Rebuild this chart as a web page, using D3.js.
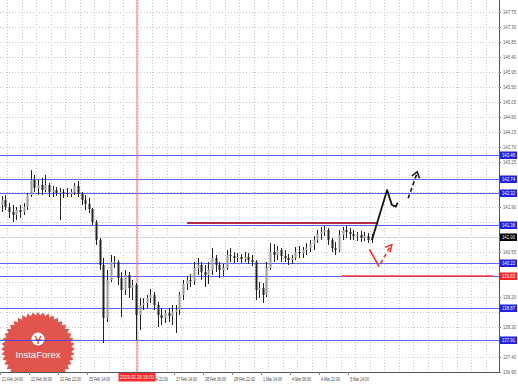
<!DOCTYPE html>
<html><head><meta charset="utf-8">
<script src="https://cdn.jsdelivr.net/npm/d3@7"></script>
<style>html,body{margin:0;padding:0;background:#fff;overflow:hidden}</style>
</head><body><svg id="c" width="518" height="385"></svg>
<script>
// ---------- data ----------
const timeLabels = ["21 Feb 14:00","22 Feb 06:00","22 Feb 22:00","25 Feb 14:00","26 Feb 06:00","26 Feb 22:00","27 Feb 14:00","28 Feb 06:00","28 Feb 22:00","1 Mar 14:00","4 Mar 06:00","4 Mar 22:00","5 Mar 14:00"];
const priceTicks = [136.95,137.40,137.85,138.30,138.75,139.20,139.65,140.10,140.55,141.00,141.45,141.90,142.35,142.80,143.25,143.70,144.15,144.60,145.05,145.50,145.95,146.40,146.85,147.30,147.75];
const firstOpen = 141.96;
const highs = [142.23,142.26,142.02,141.96,141.90,141.96,142.02,142.32,143.01,142.86,142.71,142.77,142.86,142.62,142.53,142.50,142.47,142.44,142.47,142.44,142.62,142.68,142.35,142.26,142.17,141.87,141.51,140.97,140.37,140.01,140.46,140.43,140.31,139.95,140.01,139.95,139.71,139.62,139.17,139.17,139.26,139.44,139.35,139.05,138.87,138.81,138.87,138.96,138.96,139.35,139.71,139.83,139.89,140.25,140.37,140.25,140.16,140.25,140.67,140.46,140.25,140.19,140.61,140.67,140.55,140.52,140.49,140.55,140.52,140.46,140.31,139.65,139.62,140.25,140.82,140.79,140.73,140.67,140.61,140.49,140.46,140.70,140.73,140.70,140.82,140.91,141.03,141.21,141.30,141.33,141.27,140.97,140.85,141.21,141.30,141.33,141.27,141.21,141.15,141.18,141.15,141.12,141.09];
const lows = [141.75,141.81,141.57,141.45,141.51,141.57,141.66,141.81,142.20,142.35,142.26,142.26,142.35,142.20,142.20,142.23,141.51,142.17,142.20,142.20,142.26,142.20,141.96,141.81,141.72,141.36,140.76,140.01,137.82,138.45,139.65,140.07,139.56,138.60,139.26,139.17,139.11,137.91,138.21,138.81,138.87,139.02,138.81,138.30,138.36,138.42,138.45,138.36,138.12,138.66,139.11,139.41,139.50,139.56,139.86,139.71,139.50,139.59,139.86,139.95,139.77,139.83,140.01,140.25,140.22,140.25,140.22,140.25,140.19,140.13,139.11,139.17,139.02,139.20,140.01,140.25,140.31,140.25,140.25,140.16,140.19,140.31,140.37,140.37,140.46,140.55,140.61,140.82,140.91,141.03,140.76,140.55,140.46,140.55,140.91,140.97,140.91,140.91,140.88,140.85,140.88,140.82,140.82];
const closes = [142.11,141.90,141.75,141.66,141.81,141.75,141.90,142.26,142.71,142.47,142.56,142.41,142.56,142.35,142.41,142.32,142.35,142.32,142.29,142.35,142.53,142.29,142.11,141.99,141.84,141.45,140.91,140.16,138.57,139.71,140.25,140.25,139.77,139.41,139.86,139.47,139.56,138.66,138.96,139.02,139.17,139.26,138.96,138.66,138.57,138.72,138.63,138.75,138.81,139.26,139.59,139.71,139.68,140.07,140.16,139.95,139.86,140.01,140.37,140.16,140.01,140.07,140.46,140.43,140.37,140.40,140.34,140.40,140.31,140.25,139.41,139.47,139.26,140.07,140.55,140.46,140.61,140.43,140.37,140.31,140.37,140.55,140.52,140.61,140.67,140.79,140.91,141.09,141.15,141.21,140.91,140.67,140.61,141.06,141.21,141.15,141.09,141.03,141.06,140.97,141.03,140.91,141.00];
const blueLevels = [143.46,142.74,142.32,141.36,140.22,139.83,138.87,137.91];
const resistanceLevel = 141.42;   // dark red segment
const resistanceSpan = [51.1,103.8];
const supportLevel = 139.83;      // red segment
const supportSpan = [93.8,135.5];
const bidPrice = 141.00;
const crossIndex = 37.3;
const crossLabel = "2019.02.26 16:00";
const blackSolid = [[102.1,140.91],[106.3,142.41],[107.6,141.96],[108.7,141.91],[109.2,142.03]];
const blackDashed = [[112.1,142.16],[114.6,142.93]];
const blackHead = [[113.1,142.83],[114.6,142.96],[115.2,142.76]];
const redSolid = [[101.4,140.63],[104.1,140.11]];
const redDashed = [[104.5,140.21],[107.4,140.76]];
const redHead = [[105.7,140.69],[107.6,140.77],[107.1,140.54]];

// ---------- layout ----------
const svg = d3.select("#c");
const plotR = 499, plotB = 372;
const x = d3.scaleLinear().domain([0,137]).range([1.8, 1.8 + 137*3.625]);
const y = d3.scaleLinear().domain([136.95,147.75]).range([plotB, 12]);
const font = "'Liberation Sans', Arial, sans-serif";
const fmt = d3.format(".2f");

svg.append("rect").attr("width",518).attr("height",385).attr("fill","#fff");
svg.append("clipPath").attr("id","pc").append("rect").attr("x",0).attr("y",0).attr("width",plotR).attr("height",plotB);
const plot = svg.append("g").attr("clip-path","url(#pc)");

// grid
plot.append("g").selectAll("line").data(priceTicks).join("line")
  .attr("x1",0).attr("x2",plotR).attr("y1",d=>Math.round(y(d))+0.5).attr("y2",d=>Math.round(y(d))+0.5)
  .attr("stroke","#c8c8c8").attr("stroke-dasharray","1,2");
plot.append("g").selectAll("line").data(d3.range(1.5,137,4)).join("line")
  .attr("x1",d=>Math.round(x(d))+0.5).attr("x2",d=>Math.round(x(d))+0.5).attr("y1",0).attr("y2",plotB)
  .attr("stroke","#c8c8c8").attr("stroke-dasharray","1,2");

// logo
const logo = plot.append("g").attr("transform","translate(38,349)");
const spikes = 44, ro = 37, ri = 33.5;
const pts = d3.range(spikes*2).map(k=>{const a=k*Math.PI/spikes; const r=k%2?ri:ro; return [r*Math.sin(a), -r*Math.cos(a)];});
logo.append("polygon").attr("points",pts.map(p=>p.join(",")).join(" ")).attr("fill","#e0463e").attr("opacity",0.92);
logo.append("circle").attr("cx",0).attr("cy",-10).attr("r",6.5).attr("fill","#fff");
logo.append("path").attr("d","M-3,-13 L0,-8 L3,-13 M0,-8 L0,-5 M-3,-9 L3,-9").attr("stroke","#e0463e").attr("stroke-width",1.4).attr("fill","none");
logo.append("text").attr("x",0).attr("y",9).attr("text-anchor","middle").attr("fill","#fff")
  .attr("font-family",font).attr("font-size",9.5).text("InstaForex");

// level lines
plot.append("g").selectAll("line").data(blueLevels).join("line")
  .attr("x1",0).attr("x2",plotR).attr("y1",d=>Math.round(y(d))+0.5).attr("y2",d=>Math.round(y(d))+0.5)
  .attr("stroke","#3a3aff").attr("stroke-opacity",0.8).attr("stroke-width",1);
plot.append("line").attr("x1",0).attr("x2",plotR).attr("y1",Math.round(y(bidPrice))+0.5).attr("y2",Math.round(y(bidPrice))+0.5)
  .attr("stroke","#d8d8d8").attr("stroke-width",1);
plot.append("line").attr("x1",x(crossIndex)).attr("x2",x(crossIndex)).attr("y1",0).attr("y2",plotB)
  .attr("stroke","#ff5a5a").attr("stroke-width",1);

// candles
const bars = closes.map((c,i)=>{const o = i? closes[i-1] : firstOpen; return {i,o,c,h:Math.max(highs[i],o,c),l:Math.min(lows[i],o,c)};});
const cg = plot.append("g");
cg.selectAll("line").data(bars).join("line")
  .attr("x1",d=>Math.round(x(d.i))+0.5).attr("x2",d=>Math.round(x(d.i))+0.5)
  .attr("y1",d=>y(d.h)).attr("y2",d=>y(d.l)).attr("stroke","#222").attr("stroke-width",1);
cg.selectAll("rect").data(bars).join("rect")
  .attr("x",d=>Math.round(x(d.i))-0.5).attr("width",2)
  .attr("y",d=>y(Math.max(d.o,d.c))).attr("height",d=>Math.max(1,Math.abs(y(d.o)-y(d.c))))
  .attr("fill",d=>d.c>=d.o?"#9a9a9a":"#222").attr("stroke","none");

// drawn segments
plot.append("line").attr("x1",x(resistanceSpan[0])).attr("x2",x(resistanceSpan[1])).attr("y1",y(resistanceLevel)).attr("y2",y(resistanceLevel))
  .attr("stroke","#b52a45").attr("stroke-width",2);
plot.append("line").attr("x1",x(supportSpan[0])).attr("x2",x(supportSpan[1])).attr("y1",y(supportLevel)).attr("y2",y(supportLevel))
  .attr("stroke","#ff3333").attr("stroke-width",1.6);

const ln = d3.line().x(d=>x(d[0])).y(d=>y(d[1]));
plot.append("path").attr("d",ln(blackSolid)).attr("fill","none").attr("stroke","#111").attr("stroke-width",1.8).attr("stroke-linejoin","round");
plot.append("path").attr("d",ln(blackDashed)).attr("fill","none").attr("stroke","#111").attr("stroke-width",1.6).attr("stroke-dasharray","4,3");
plot.append("path").attr("d",ln(blackHead)).attr("fill","none").attr("stroke","#111").attr("stroke-width",1.5);
plot.append("path").attr("d",ln(redSolid)).attr("fill","none").attr("stroke","#ff2a2a").attr("stroke-width",1.6);
plot.append("path").attr("d",ln(redDashed)).attr("fill","none").attr("stroke","#ff2a2a").attr("stroke-width",1.6).attr("stroke-dasharray","4,3");
plot.append("path").attr("d",ln(redHead)).attr("fill","none").attr("stroke","#ff2a2a").attr("stroke-width",1.5);

// frame
svg.append("line").attr("x1",plotR+0.5).attr("x2",plotR+0.5).attr("y1",0).attr("y2",plotB).attr("stroke","#555");
svg.append("line").attr("x1",0).attr("x2",plotR+1).attr("y1",plotB+0.5).attr("y2",plotB+0.5).attr("stroke","#555");

// right axis (ticks hidden under level boxes are not drawn, as in the reference)
const boxPrices = blueLevels.concat([supportLevel,bidPrice]);
const visibleTicks = priceTicks.filter(t=>boxPrices.every(b=>Math.abs(y(b)-y(t))>7));
const ya = svg.append("g").attr("transform",`translate(${plotR},0)`)
  .call(d3.axisRight(y).tickValues(visibleTicks).tickSize(2).tickPadding(2).tickFormat(fmt));
ya.select(".domain").remove();
ya.selectAll("text").attr("font-family",font).attr("font-size",5.4).attr("fill","#555")
  .attr("textLength",13).attr("lengthAdjust","spacingAndGlyphs");
ya.selectAll("line").attr("stroke","#888");

// level labels on axis
const lab = svg.append("g");
function boxLabel(price, fill){
  const yy = Math.round(y(price));
  lab.append("rect").attr("x",plotR+1).attr("y",yy-3.5).attr("width",17).attr("height",7.5).attr("fill",fill);
  lab.append("text").attr("x",plotR+9.5).attr("y",yy+2.2).attr("text-anchor","middle").attr("fill","#fff")
    .attr("font-family",font).attr("font-size",5.4).attr("textLength",13).attr("lengthAdjust","spacingAndGlyphs").text(fmt(price));
}
blueLevels.filter(p=>p!==supportLevel).forEach(p=>boxLabel(p,"#2020e8"));
boxLabel(supportLevel,"#ff2222");
boxLabel(bidPrice,"#000");

// bottom axis (the label fully under the crosshair box is hidden, as in the reference)
const crossX = x(crossIndex);
const tickIdx = timeLabels.map((_,k)=>8*k-0.5);
const shown = tickIdx.filter(t=>!(x(t) < crossX && x(t) > crossX-25));
const xa = svg.append("g").attr("transform",`translate(0,${plotB})`)
  .call(d3.axisBottom(x).tickValues(shown).tickSize(3).tickPadding(2).tickFormat(d=>timeLabels[(d+0.5)/8]));
xa.select(".domain").remove();
xa.selectAll("line").attr("stroke","#888");
xa.selectAll("text").attr("font-family",font).attr("font-size",5.2).attr("fill","#444")
  .attr("text-anchor","start").attr("dx",1.5)
  .attr("textLength",d=>timeLabels[(d+0.5)/8].length>11?21:19).attr("lengthAdjust","spacingAndGlyphs");

// crosshair time label (drawn on top, partly covering the next label as in the reference)
svg.append("rect").attr("x",crossX-18.5).attr("y",plotB+1).attr("width",37).attr("height",8.5).attr("fill","#ff2a2a");
svg.append("text").attr("x",crossX).attr("y",plotB+7.3).attr("text-anchor","middle").attr("fill","#fff")
  .attr("font-family",font).attr("font-size",5).attr("textLength",34).attr("lengthAdjust","spacingAndGlyphs").text(crossLabel);
</script></body></html>
